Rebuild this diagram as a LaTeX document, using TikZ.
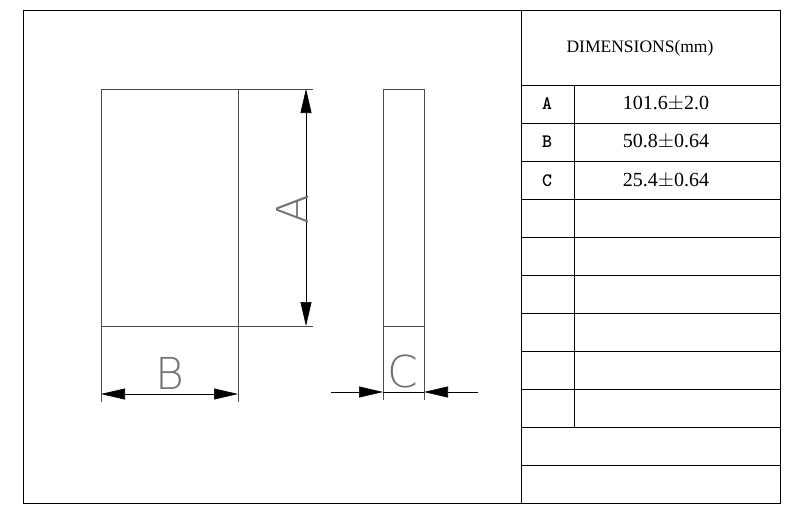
\documentclass[tikz,border=0pt]{standalone}
\usepackage{fontspec}
\setmainfont{Liberation Serif}
\newfontfamily\cadfont{DejaVu Sans ExtraLight}
\usetikzlibrary{arrows.meta}
\tikzset{
  part/.style={draw=black!70, line width=0.7pt},
  dimline/.style={line width=0.6pt, -{Triangle[length=24pt,width=11pt]}},
  cadtext/.style={text=black!55, font=\cadfont\fontsize{44}{44}\selectfont, inner sep=0pt},
  celltext/.style={font=\fontsize{20}{24}\selectfont, inner sep=0pt}
}
\begin{document}
\begin{tikzpicture}[x=1pt,y=-1pt]
        \useasboundingbox (0,0) rectangle (787,522);

        % frame and table
        \draw[line width=0.8pt] (23,10) rectangle (780,503);
        \draw[line width=0.8pt] (521,10) -- (521,503);
        \foreach \y in {85,123,161,199,237,275,313,351,389,427,465}
            \draw[line width=0.6pt] (521,\y) -- (780,\y);
        \draw[line width=0.6pt] (574,85) -- (574,427);

        \node[celltext, font=\fontsize{17.5}{20}\selectfont] (head) at (640,48) {DIMENSIONS(mm)};
        \node[celltext, font=\ttfamily\bfseries\fontsize{19}{22}\selectfont] (la) at (547,104) {A};
        \node[celltext, font=\ttfamily\bfseries\fontsize{19}{22}\selectfont] (lb) at (547,142) {B};
        \node[celltext, font=\ttfamily\bfseries\fontsize{19}{22}\selectfont] (lc) at (547,181) {C};
        \node[celltext] (va) at (666,104) {101.6$\pm$2.0};
        \node[celltext] (vb) at (666,142) {50.8$\pm$0.64};
        \node[celltext] (vc) at (666,181) {25.4$\pm$0.64};

        % front and side views
        \draw[part] (101,89) rectangle (238,326);
        \draw[part] (383,89) rectangle (424,326);

        % dimension A
        \draw[part, line width=0.5pt] (238,89) -- (313,89);
        \draw[part, line width=0.5pt] (238,326) -- (313,326);
        \coordinate (amid) at (306,207);
        \draw[dimline] (amid) -- (306,89);
        \draw[dimline] (amid) -- (306,326);
        \node[cadtext, rotate=90] (dima) at (292,209) {A};

        % dimension B
        \draw[part, line width=0.5pt] (101,326) -- (101,402);
        \draw[part, line width=0.5pt] (238,326) -- (238,402);
        \coordinate (bmid) at (170,394);
        \draw[dimline] (bmid) -- (101,394);
        \draw[dimline] (bmid) -- (238,394);
        \node[cadtext] (dimb) at (170,373) {B};

        % dimension C
        \draw[part, line width=0.5pt] (383,326) -- (383,400);
        \draw[part, line width=0.5pt] (424,326) -- (424,400);
        \draw[line width=0.6pt] (383,392) -- (424,392);
        \draw[dimline] (331,392) -- (383,392);
        \draw[dimline] (478,392) -- (424,392);
        \node[cadtext] (dimc) at (403,371) {C};

    \end{tikzpicture}
\end{document}
